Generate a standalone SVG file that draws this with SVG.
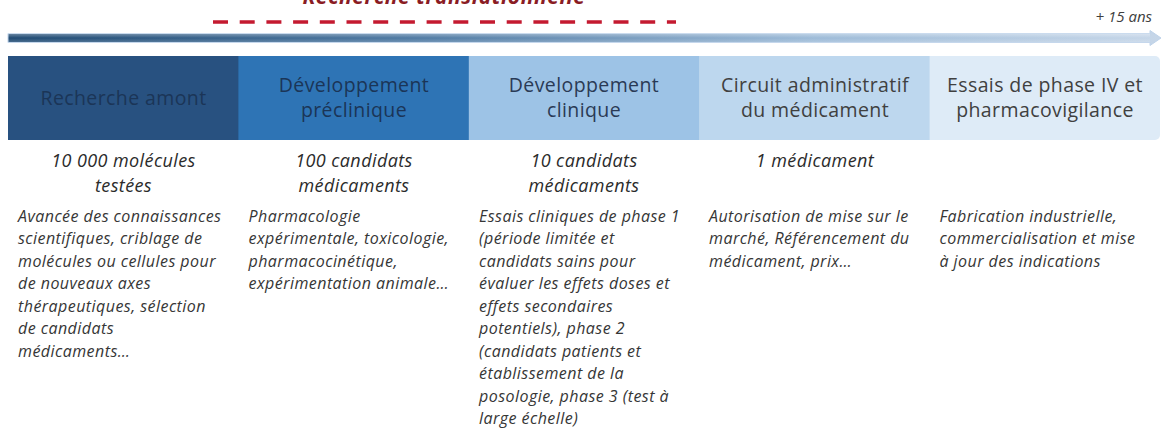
<svg xmlns="http://www.w3.org/2000/svg" width="1167" height="428" viewBox="0 0 1167 428">
<defs>
<linearGradient id="arrowGrad" x1="0" y1="0" x2="1" y2="0">
<stop offset="0" stop-color="#1F4A73"/>
<stop offset="0.35" stop-color="#4F7AA3"/>
<stop offset="0.7" stop-color="#9DBBD8"/>
<stop offset="1" stop-color="#C6D6E8"/>
</linearGradient>
<linearGradient id="shine" x1="0" y1="0" x2="0" y2="1">
<stop offset="0" stop-color="#ffffff" stop-opacity="0.35"/>
<stop offset="0.5" stop-color="#ffffff" stop-opacity="0"/>
<stop offset="1" stop-color="#ffffff" stop-opacity="0.2"/>
</linearGradient>
<style>
.box-t{font-family:"Open Sans","Liberation Sans",sans-serif;font-size:19.5px;letter-spacing:0.4px;text-anchor:middle}
.dark{fill:#1B3557}
.grey{fill:#404040}
.head{font-family:"Open Sans","Liberation Sans",sans-serif;font-style:italic;font-size:18px;letter-spacing:0.4px;fill:#2B2B2B;text-anchor:middle}
.body{font-family:"Open Sans","Liberation Sans",sans-serif;font-style:italic;font-size:16px;letter-spacing:0.45px;fill:#363636}
</style>
</defs>
<rect width="1167" height="428" fill="#ffffff"/>

<g id="title">
<text x="444" y="3.5" font-family="Open Sans, Liberation Sans, sans-serif" font-size="21" letter-spacing="0.6" font-weight="bold" font-style="italic" fill="#8A1C24" text-anchor="middle">Recherche translationnelle</text>
<line x1="213" y1="22" x2="676" y2="22" stroke="#C41A30" stroke-width="3.4" stroke-dasharray="15 11.7"/>
<text x="1152" y="22" font-family="Open Sans, Liberation Sans, sans-serif" font-size="15" font-style="italic" fill="#404040" text-anchor="end">+ 15 ans</text>
</g>

<g id="connectors">
<path d="M8 33.5 H1150 V30.5 L1161 38 L1150 45.5 V42.5 H8 Z" fill="url(#arrowGrad)" stroke="#BFD3EA" stroke-width="1"/>
<path d="M8 33.5 H1150 V42.5 H8 Z" fill="url(#shine)"/>
</g>

<g id="box1">
<rect x="8" y="56" width="231" height="84" fill="#285180"/>
<text class="box-t dark" x="123.5" y="104.5">Recherche amont</text>
</g>
<g id="box2">
<rect x="238.4" y="56" width="231" height="84" fill="#2E74B5"/>
<text class="box-t dark" x="354" y="92">Développement</text>
<text class="box-t dark" x="354" y="117">préclinique</text>
</g>
<g id="box3">
<rect x="468.8" y="56" width="231" height="84" fill="#9DC3E6"/>
<text class="box-t" fill="#2A3A55" x="584" y="92">Développement</text>
<text class="box-t" fill="#2A3A55" x="584" y="117">clinique</text>
</g>
<g id="box4">
<rect x="699.2" y="56" width="231" height="84" fill="#BDD7EE"/>
<text class="box-t grey" x="815" y="92">Circuit administratif</text>
<text class="box-t grey" x="815" y="117">du médicament</text>
</g>
<g id="box5">
<path d="M929.6 56 H1155 a5 5 0 0 1 5 5 V135 a5 5 0 0 1 -5 5 H929.6 Z" fill="#DEEBF7"/>
<text class="box-t grey" x="1045" y="92">Essais de phase IV et</text>
<text class="box-t grey" x="1045" y="117">pharmacovigilance</text>
</g>

<g id="col1">
<text class="head" x="123.5" y="167">10 000 molécules</text>
<text class="head" x="123.5" y="192">testées</text>
<text class="body" x="18" y="221.5">Avancée des connaissances</text>
<text class="body" x="18" y="244">scientifiques, criblage de</text>
<text class="body" x="18" y="266.5">molécules ou cellules pour</text>
<text class="body" x="18" y="289">de nouveaux axes</text>
<text class="body" x="18" y="311.5">thérapeutiques, sélection</text>
<text class="body" x="18" y="334">de candidats</text>
<text class="body" x="18" y="356.5">médicaments…</text>
</g>
<g id="col2">
<text class="head" x="354" y="167">100 candidats</text>
<text class="head" x="354" y="192">médicaments</text>
<text class="body" x="248.5" y="221.5">Pharmacologie</text>
<text class="body" x="248.5" y="244">expérimentale, toxicologie,</text>
<text class="body" x="248.5" y="266.5">pharmacocinétique,</text>
<text class="body" x="248.5" y="289">expérimentation animale…</text>
</g>
<g id="col3">
<text class="head" x="584" y="167">10 candidats</text>
<text class="head" x="584" y="192">médicaments</text>
<text class="body" x="479" y="221.5">Essais cliniques de phase 1</text>
<text class="body" x="479" y="244">(période limitée et</text>
<text class="body" x="479" y="266.5">candidats sains pour</text>
<text class="body" x="479" y="289">évaluer les effets doses et</text>
<text class="body" x="479" y="311.5">effets secondaires</text>
<text class="body" x="479" y="334">potentiels), phase 2</text>
<text class="body" x="479" y="356.5">(candidats patients et</text>
<text class="body" x="479" y="379">établissement de la</text>
<text class="body" x="479" y="401.5">posologie, phase 3 (test à</text>
<text class="body" x="479" y="424">large échelle)</text>
</g>
<g id="col4">
<text class="head" x="815" y="167">1 médicament</text>
<text class="body" x="709" y="221.5">Autorisation de mise sur le</text>
<text class="body" x="709" y="244">marché, Référencement du</text>
<text class="body" x="709" y="266.5">médicament, prix…</text>
</g>
<g id="col5">
<text class="body" x="939.5" y="221.5">Fabrication industrielle,</text>
<text class="body" x="939.5" y="244">commercialisation et mise</text>
<text class="body" x="939.5" y="266.5">à jour des indications</text>
</g>
</svg>
